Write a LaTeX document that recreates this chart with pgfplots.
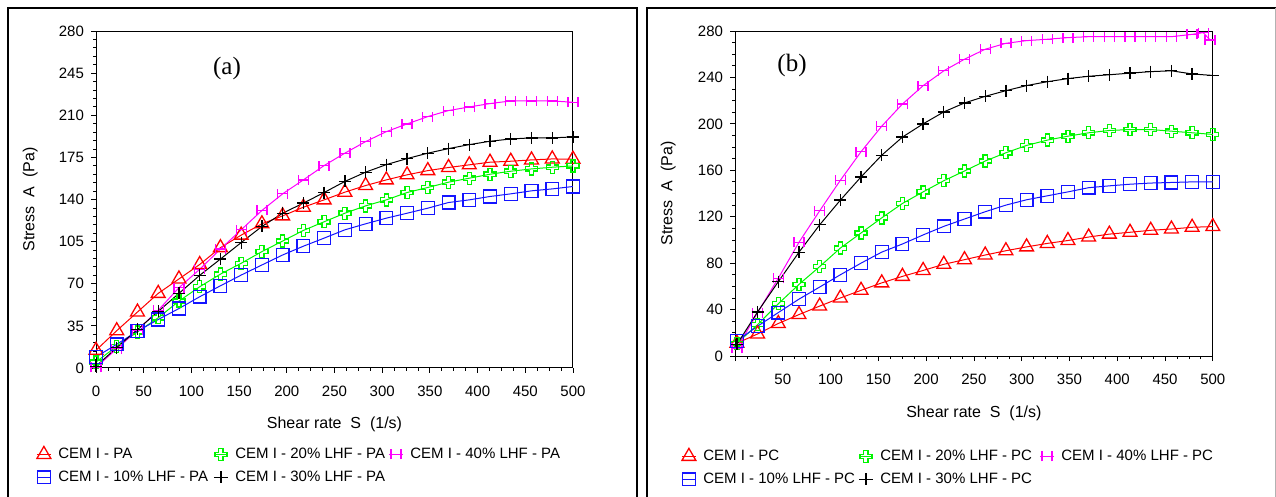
\documentclass[border=0pt]{standalone}
\usepackage{fontspec}
\setmainfont{Liberation Sans}
\newfontfamily\seriffont{Liberation Serif}
\usepackage{pgfplots}
\pgfplotsset{compat=1.18}
\usepackage{pgfplotstable}

\definecolor{cred}{RGB}{255,0,0}
\definecolor{cblue}{RGB}{20,20,255}
\definecolor{cgreen}{RGB}{0,245,0}
\definecolor{cmag}{RGB}{255,0,255}

\pgfdeclareplotmark{hbar}{%
  \pgfpathmoveto{\pgfqpoint{-\pgfplotmarksize}{0pt}}%
  \pgfpathlineto{\pgfqpoint{\pgfplotmarksize}{0pt}}%
  \pgfpathmoveto{\pgfqpoint{-\pgfplotmarksize}{-\pgfplotmarksize}}%
  \pgfpathlineto{\pgfqpoint{-\pgfplotmarksize}{\pgfplotmarksize}}%
  \pgfpathmoveto{\pgfqpoint{\pgfplotmarksize}{-\pgfplotmarksize}}%
  \pgfpathlineto{\pgfqpoint{\pgfplotmarksize}{\pgfplotmarksize}}%
  \pgfusepathqstroke}
\pgfdeclareplotmark{ocross}{%
  \pgfpathmoveto{\pgfpoint{0.35\pgfplotmarksize}{\pgfplotmarksize}}%
  \pgfpathlineto{\pgfpoint{0.35\pgfplotmarksize}{0.35\pgfplotmarksize}}%
  \pgfpathlineto{\pgfpoint{\pgfplotmarksize}{0.35\pgfplotmarksize}}%
  \pgfpathlineto{\pgfpoint{\pgfplotmarksize}{-0.35\pgfplotmarksize}}%
  \pgfpathlineto{\pgfpoint{0.35\pgfplotmarksize}{-0.35\pgfplotmarksize}}%
  \pgfpathlineto{\pgfpoint{0.35\pgfplotmarksize}{-\pgfplotmarksize}}%
  \pgfpathlineto{\pgfpoint{-0.35\pgfplotmarksize}{-\pgfplotmarksize}}%
  \pgfpathlineto{\pgfpoint{-0.35\pgfplotmarksize}{-0.35\pgfplotmarksize}}%
  \pgfpathlineto{\pgfpoint{-\pgfplotmarksize}{-0.35\pgfplotmarksize}}%
  \pgfpathlineto{\pgfpoint{-\pgfplotmarksize}{0.35\pgfplotmarksize}}%
  \pgfpathlineto{\pgfpoint{-0.35\pgfplotmarksize}{0.35\pgfplotmarksize}}%
  \pgfpathlineto{\pgfpoint{-0.35\pgfplotmarksize}{\pgfplotmarksize}}%
  \pgfpathclose\pgfusepathqstroke}

\pgfplotstableread{
x pa p10 p20 p30 p40
0 14.7 9.2 5 1.4 0.5
21.74 31 19.7 18 17 16
43.48 46.5 30.6 30 32 31.4
65.22 62 40.3 41.7 47 48
86.96 74 49.4 55.6 62 66.7
108.70 86 59.2 67.5 77 82
130.43 100 68.3 78 90.5 98.8
152.17 110.4 77.2 87 104.2 114.8
173.91 119.8 85.6 96.7 117.6 130.9
195.65 126.4 93.9 105.5 128.6 144.7
217.39 133.6 101.2 114.3 137 156.3
239.13 139.7 107.9 121.5 145.8 168.2
260.87 146.1 114.8 128.6 155 178.5
282.61 151.6 119.8 134.7 162.7 188.1
304.35 156.3 124.5 139.7 169 196.4
326.09 160.5 128.6 145.8 174 202.8
347.83 164 132.8 150 178.5 208.9
369.57 166.6 137.5 154.4 182.3 213.9
391.30 168.8 139.7 157.7 185.6 216.9
413.04 171 142.5 161 188.4 219.7
434.78 171.8 144.7 163.5 190.3 221.9
456.52 172.9 147.2 165.4 191.2 221.9
478.26 173.7 148.8 166.8 191.2 221.9
500 173.5 150.8 167.9 192 220.8
}\dataA

\pgfplotstableread{
x pa p10 p20 p30
2 11 13 10.9 10
23.65 19 25.7 27 38
45.30 28 37.4 45 64
66.96 35.7 49 61.7 89.4
88.61 43 59.4 77 113
110.26 50 70 93 134.3
131.91 56.6 80 106 154.3
153.57 63 89.5 119 173
175.22 68.6 96.5 131.4 188.6
196.87 73.7 104.3 141.4 200
218.52 79 111.7 151 210.3
240.17 83 118 159.4 218
261.83 87 124.3 168 223.7
283.48 90.7 130 175.1 228.6
305.13 94 134.6 181.4 233
326.78 97 138 186 236.3
348.43 99.5 141.4 189.4 239
370.09 102.5 145 192.3 241
391.74 105 146.6 194.3 242.3
413.39 106.6 148 195.1 243.7
435.04 108.3 149 195.1 245
456.70 109.4 149.5 193.7 245.7
478.35 110.9 150 192.3 243
500 111.5 150 190.9 241.7
}\dataB

\pgfplotstableread{
x p40
2 6.6
23.65 37.4
45.30 67
66.96 98
88.61 125.1
110.26 151.4
131.91 176
153.57 198
175.22 217.1
196.87 232.9
218.52 245.7
240.17 255.7
261.83 264.3
283.48 269.4
305.13 271.7
326.78 272.9
348.43 274.3
370.09 275.1
391.74 275.1
413.39 275.1
435.04 275.1
456.70 275.1
478.35 277.1
490 278.6
497 272.3
}\dataBm

\pgfplotsset{
  myaxis/.style={
    scale only axis,
    xmin=0, xmax=500, ymin=0, ymax=280,
    axis line style={line width=0.5pt},
    tick align=outside, tick pos=left,
    major tick length=2.5pt, minor tick length=1.5pt,
    every tick/.style={black, line width=0.4pt},
    tick label style={font=\fontsize{7.5}{9}\selectfont},
    xticklabel style={yshift=-3pt},
    /pgf/number format/assume math mode=true,
    label style={font=\fontsize{8}{9.6}\selectfont},
    legend cell align=left,
    legend columns=3,
    legend style={draw=none, fill=none, inner sep=0pt,
      font=\fontsize{7.5}{9}\selectfont,
      nodes={inner sep=0pt, text height=5.5pt, text depth=1.5pt},
      row sep=4.5pt,
      /tikz/every odd column/.style={column sep=3.5pt},
      /tikz/every even column/.style={column sep=0pt}},
    legend image code/.code={\draw[mark repeat=2,mark phase=2,#1] plot coordinates {(-3.5pt,0pt) (0pt,0pt) (3.5pt,0pt)};},
    every axis plot/.append style={line width=0.5pt, mark options={line width=0.65pt}},
    sPA/.style={cred, mark=triangle, mark size=4pt},
    s10/.style={cblue, mark=square, mark size=3.2pt},
    s20/.style={cgreen, mark=ocross, mark size=3pt},
    s30/.style={black, mark=+, mark size=3pt},
    s40/.style={cmag, mark=hbar, mark size=2.5pt},
  }
}

\begin{document}
\begin{tikzpicture}
\useasboundingbox (0pt,0pt) rectangle (638pt,-248.5pt);
% panel frames
\draw[line width=1pt] (4pt,-260pt) -- (4pt,-4pt) -- (318.5pt,-4pt) -- (318.5pt,-260pt);
\draw[line width=1pt] (323.5pt,-260pt) -- (323.5pt,-3.8pt) -- (640pt,-3.8pt);
\draw[line width=0.4pt, gray!60] (637.6pt,-3.8pt) -- (637.6pt,-260pt);

\begin{axis}[myaxis,
  at={(48pt,-184pt)}, anchor=south west,
  width=238.5pt, height=168.5pt,
  xtick={0,50,...,500}, minor x tick num=3,
  ytick={0,35,...,280}, minor y tick num=4,
  xlabel={Shear rate~~S~~(1/s)}, ylabel={Stress~~A~~(Pa)},
  xlabel style={at={(axis description cs:0.5,-0.166)}, anchor=center},
  ylabel style={at={(axis description cs:-0.138,0.5)}, anchor=center},
  legend style={at={(axis description cs:-0.1258,-0.2315)}, anchor=north west},
]
\addplot[sPA] table[x=x,y=pa] {\dataA};
\addlegendentry{\makebox[77.5pt][l]{CEM I - PA}}
\addplot[s20] table[x=x,y=p20] {\dataA};
\addlegendentry{\makebox[76.5pt][l]{CEM I - 20\% LHF - PA}}
\addplot[s40] table[x=x,y=p40] {\dataA};
\addlegendentry{CEM I - 40\% LHF - PA}
\addplot[s10] table[x=x,y=p10] {\dataA};
\addlegendentry{\makebox[77.5pt][l]{CEM I - 10\% LHF - PA}}
\addplot[s30] table[x=x,y=p30] {\dataA};
\addlegendentry{\makebox[76.5pt][l]{CEM I - 30\% LHF - PA}}
\end{axis}

\begin{axis}[myaxis,
  at={(367.5pt,-178pt)}, anchor=south west,
  width=238.9pt, height=162.5pt,
  xtick={0,50,...,500}, xticklabels={{},50,100,150,200,250,300,350,400,450,500},
  minor x tick num=3,
  ytick={0,40,...,280}, minor y tick num=3,
  xlabel={Shear rate~~S~~(1/s)}, ylabel={Stress~~A~~(Pa)},
  xlabel style={at={(axis description cs:0.5,-0.175)}, anchor=center},
  ylabel style={at={(axis description cs:-0.140,0.5)}, anchor=center},
  legend style={at={(axis description cs:-0.113,-0.283)}, anchor=north west},
]
\addplot[sPA] table[x=x,y=pa] {\dataB};
\addlegendentry{\makebox[77.5pt][l]{CEM I - PC}}
\addplot[s20] table[x=x,y=p20] {\dataB};
\addlegendentry{\makebox[79.5pt][l]{CEM I - 20\% LHF - PC}}
\addplot[s40] table[x=x,y=p40] {\dataBm};
\addlegendentry{CEM I - 40\% LHF - PC}
\addplot[s10] table[x=x,y=p10] {\dataB};
\addlegendentry{\makebox[77.5pt][l]{CEM I - 10\% LHF - PC}}
\addplot[s30] table[x=x,y=p30] {\dataB};
\addlegendentry{\makebox[79.5pt][l]{CEM I - 30\% LHF - PC}}
\end{axis}

\node[font=\seriffont\fontsize{12.5}{14}\selectfont] at (113.5pt,-34pt) {(a)};
\node[font=\seriffont\fontsize{12.5}{14}\selectfont] at (396pt,-32.5pt) {(b)};
\end{tikzpicture}
\end{document}
